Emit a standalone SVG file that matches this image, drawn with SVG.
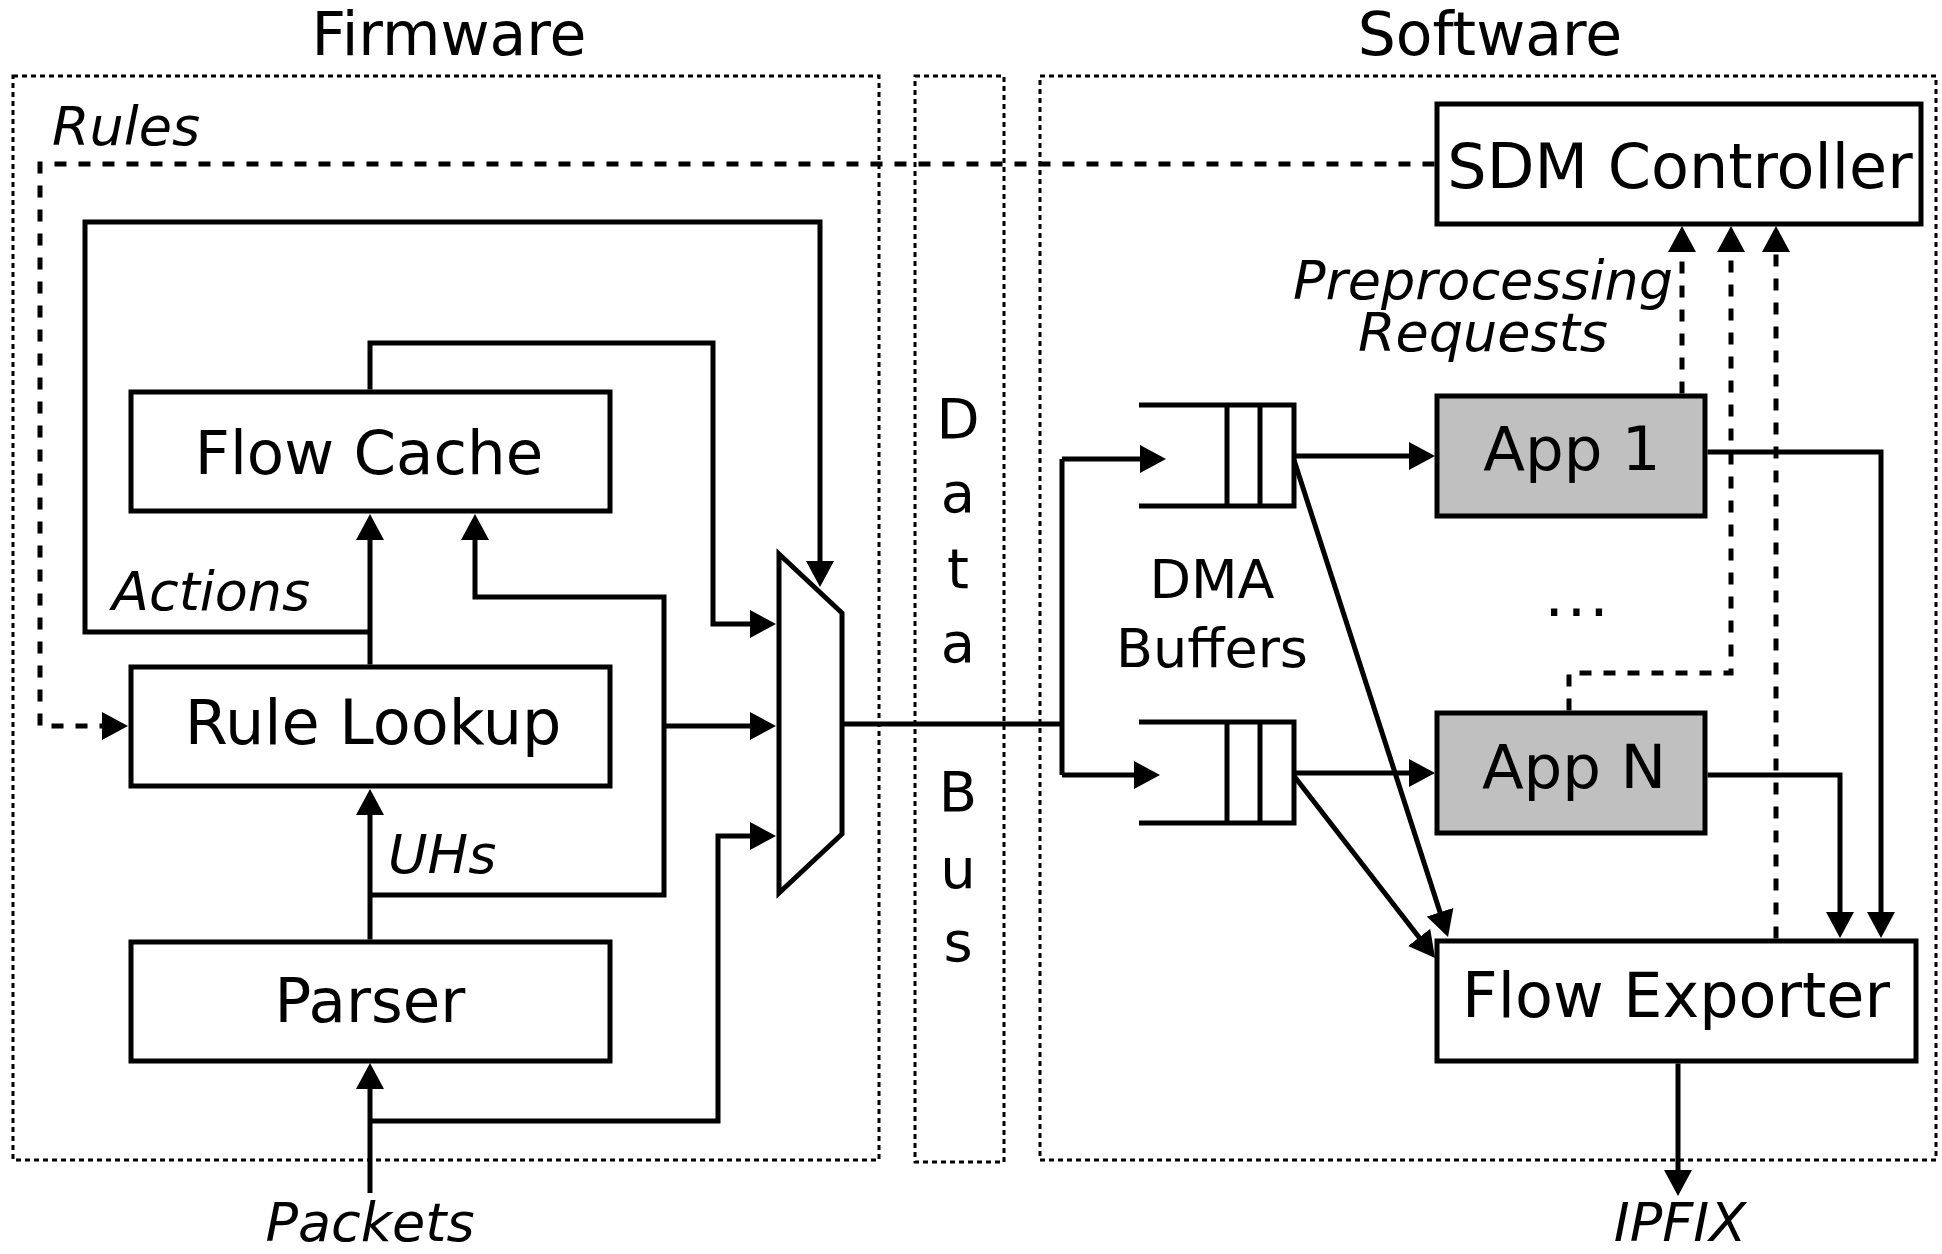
<svg xmlns="http://www.w3.org/2000/svg" width="1942" height="1254" viewBox="0 0 1942 1254">
  <style>
    .region { fill: none; stroke: #000; stroke-width: 3; stroke-dasharray: 5 4; }
    .node { fill: #fff; stroke: #000; stroke-width: 5; }
    .app { fill: #c0c0c0; stroke: #000; stroke-width: 5; }
    .buf { fill: none; stroke: #000; stroke-width: 5; }
    .wire { fill: none; stroke: #000; stroke-width: 5; }
    .arrow { fill: none; stroke: #000; stroke-width: 5; marker-end: url(#ah); }
    .dasharrow { fill: none; stroke: #000; stroke-width: 5; stroke-dasharray: 12 12; marker-end: url(#ah); }
    text { font-family: "DejaVu Sans", Verdana, sans-serif; fill: #000; }
    .title { font-size: 60px; text-anchor: middle; }
    .label { font-size: 61px; text-anchor: middle; }
    .it { font-size: 54px; font-style: italic; }
    .mid { text-anchor: middle; }
    .bus { font-size: 56px; text-anchor: middle; }
    .small { font-size: 54px; text-anchor: middle; }
  </style>
  <defs>
    <marker id="ah" markerUnits="userSpaceOnUse" markerWidth="26" markerHeight="28" viewBox="0 0 26 28" refX="21" refY="14" orient="auto">
      <path d="M0,0 L26,14 L0,28 Z" fill="#000"/>
    </marker>
  </defs>
  <rect width="1942" height="1254" fill="#fff"/>

  <g id="regions">
    <rect id="firmware-region" class="region" x="13" y="76" width="866" height="1084"/>
    <rect id="databus-region" class="region" x="915" y="76" width="89" height="1086"/>
    <rect id="software-region" class="region" x="1040" y="76" width="896" height="1084"/>
    <text class="title" x="449" y="55">Firmware</text>
    <text class="title" x="1490" y="55">Software</text>
  </g>

  <g id="data-bus">
    <text class="bus" x="958" y="438">D</text>
    <text class="bus" x="958" y="512">a</text>
    <text class="bus" x="958" y="588">t</text>
    <text class="bus" x="958" y="662">a</text>
    <text class="bus" x="958" y="811">B</text>
    <text class="bus" x="958" y="888">u</text>
    <text class="bus" x="958" y="961">s</text>
  </g>

  <g id="connectors">
    <path class="arrow" d="M370,1193 V1068"/>
    <path class="arrow" d="M370,1121 H718 V836 H771"/>
    <path class="arrow" d="M370,939.5 V794"/>
    <path class="arrow" d="M370,895 H664 V597 H475 V519"/>
    <path class="arrow" d="M664,726 H771"/>
    <path class="arrow" d="M370,664.5 V519"/>
    <path class="arrow" d="M370,632 H85 V222 H820 V582"/>
    <path class="arrow" d="M370,389.5 V343 H713 V624 H771"/>
    <path class="wire" d="M842,724 H1062 M1062,459 V775"/>
    <path class="arrow" d="M1062,459 H1161"/>
    <path class="arrow" d="M1062,775 H1155"/>
    <path class="arrow" d="M1294,456 H1430"/>
    <path class="arrow" d="M1294,773 H1430"/>
    <path class="arrow" d="M1294,460 L1446.5,932.2"/>
    <path class="arrow" d="M1294,776 L1432,954"/>
    <path class="arrow" d="M1707.5,452 H1881 V933"/>
    <path class="arrow" d="M1707.5,775 H1840 V933"/>
    <path class="arrow" d="M1678,1063.5 V1191"/>
    <path class="dasharrow" d="M1434.5,164 H40 V726 H123"/>
    <path class="dasharrow" d="M1682,393.5 V231"/>
    <path class="dasharrow" d="M1569,710.5 V673 H1731 V231"/>
    <path class="dasharrow" d="M1776,938.5 V231"/>
  </g>

  <g id="flow-cache">
    <rect class="node" x="131" y="392" width="479" height="119"/>
    <text class="label" x="369" y="474">Flow Cache</text>
  </g>
  <g id="rule-lookup">
    <rect class="node" x="131" y="667" width="479" height="119"/>
    <text class="label" x="373" y="744" style="font-size:62px">Rule Lookup</text>
  </g>
  <g id="parser">
    <rect class="node" x="131" y="942" width="479" height="119"/>
    <text class="label" x="370" y="1022">Parser</text>
  </g>
  <g id="mux">
    <polygon class="node" points="779,554 842,613 842,834 779,893"/>
  </g>
  <g id="dma-buffer-1">
    <path class="buf" d="M1139,405 H1294 V506 H1139 M1227,405 V506 M1260,405 V506"/>
  </g>
  <g id="dma-buffer-2">
    <path class="buf" d="M1139,722 H1294 V823 H1139 M1227,722 V823 M1260,722 V823"/>
  </g>
  <g id="dma-label">
    <text class="small" x="1212" y="598">DMA</text>
    <text class="small" x="1212" y="667">Buffers</text>
  </g>
  <g id="sdm-controller">
    <rect class="node" x="1437" y="104" width="484" height="120"/>
    <text class="label" x="1680" y="188" style="font-size:62px">SDM Controller</text>
  </g>
  <g id="app-1">
    <rect class="app" x="1437" y="396" width="268" height="120"/>
    <text class="label" x="1572" y="470">App 1</text>
  </g>
  <g id="apps-ellipsis">
    <text class="label" x="1578" y="616" style="letter-spacing:3px">...</text>
  </g>
  <g id="app-n">
    <rect class="app" x="1437" y="713" width="268" height="120"/>
    <text class="label" x="1574" y="788">App N</text>
  </g>
  <g id="flow-exporter">
    <rect class="node" x="1437" y="941" width="479" height="120"/>
    <text class="label" x="1676" y="1017" style="font-size:62px">Flow Exporter</text>
  </g>

  <g id="labels">
    <text class="it" x="52" y="145">Rules</text>
    <text class="it" x="112" y="610">Actions</text>
    <text class="it" x="388" y="873">UHs</text>
    <text class="it mid" x="370" y="1241">Packets</text>
    <text class="it mid" x="1680" y="1241">IPFIX</text>
    <text class="it mid" x="1483" y="299">Preprocessing</text>
    <text class="it mid" x="1483" y="351">Requests</text>
  </g>
</svg>
